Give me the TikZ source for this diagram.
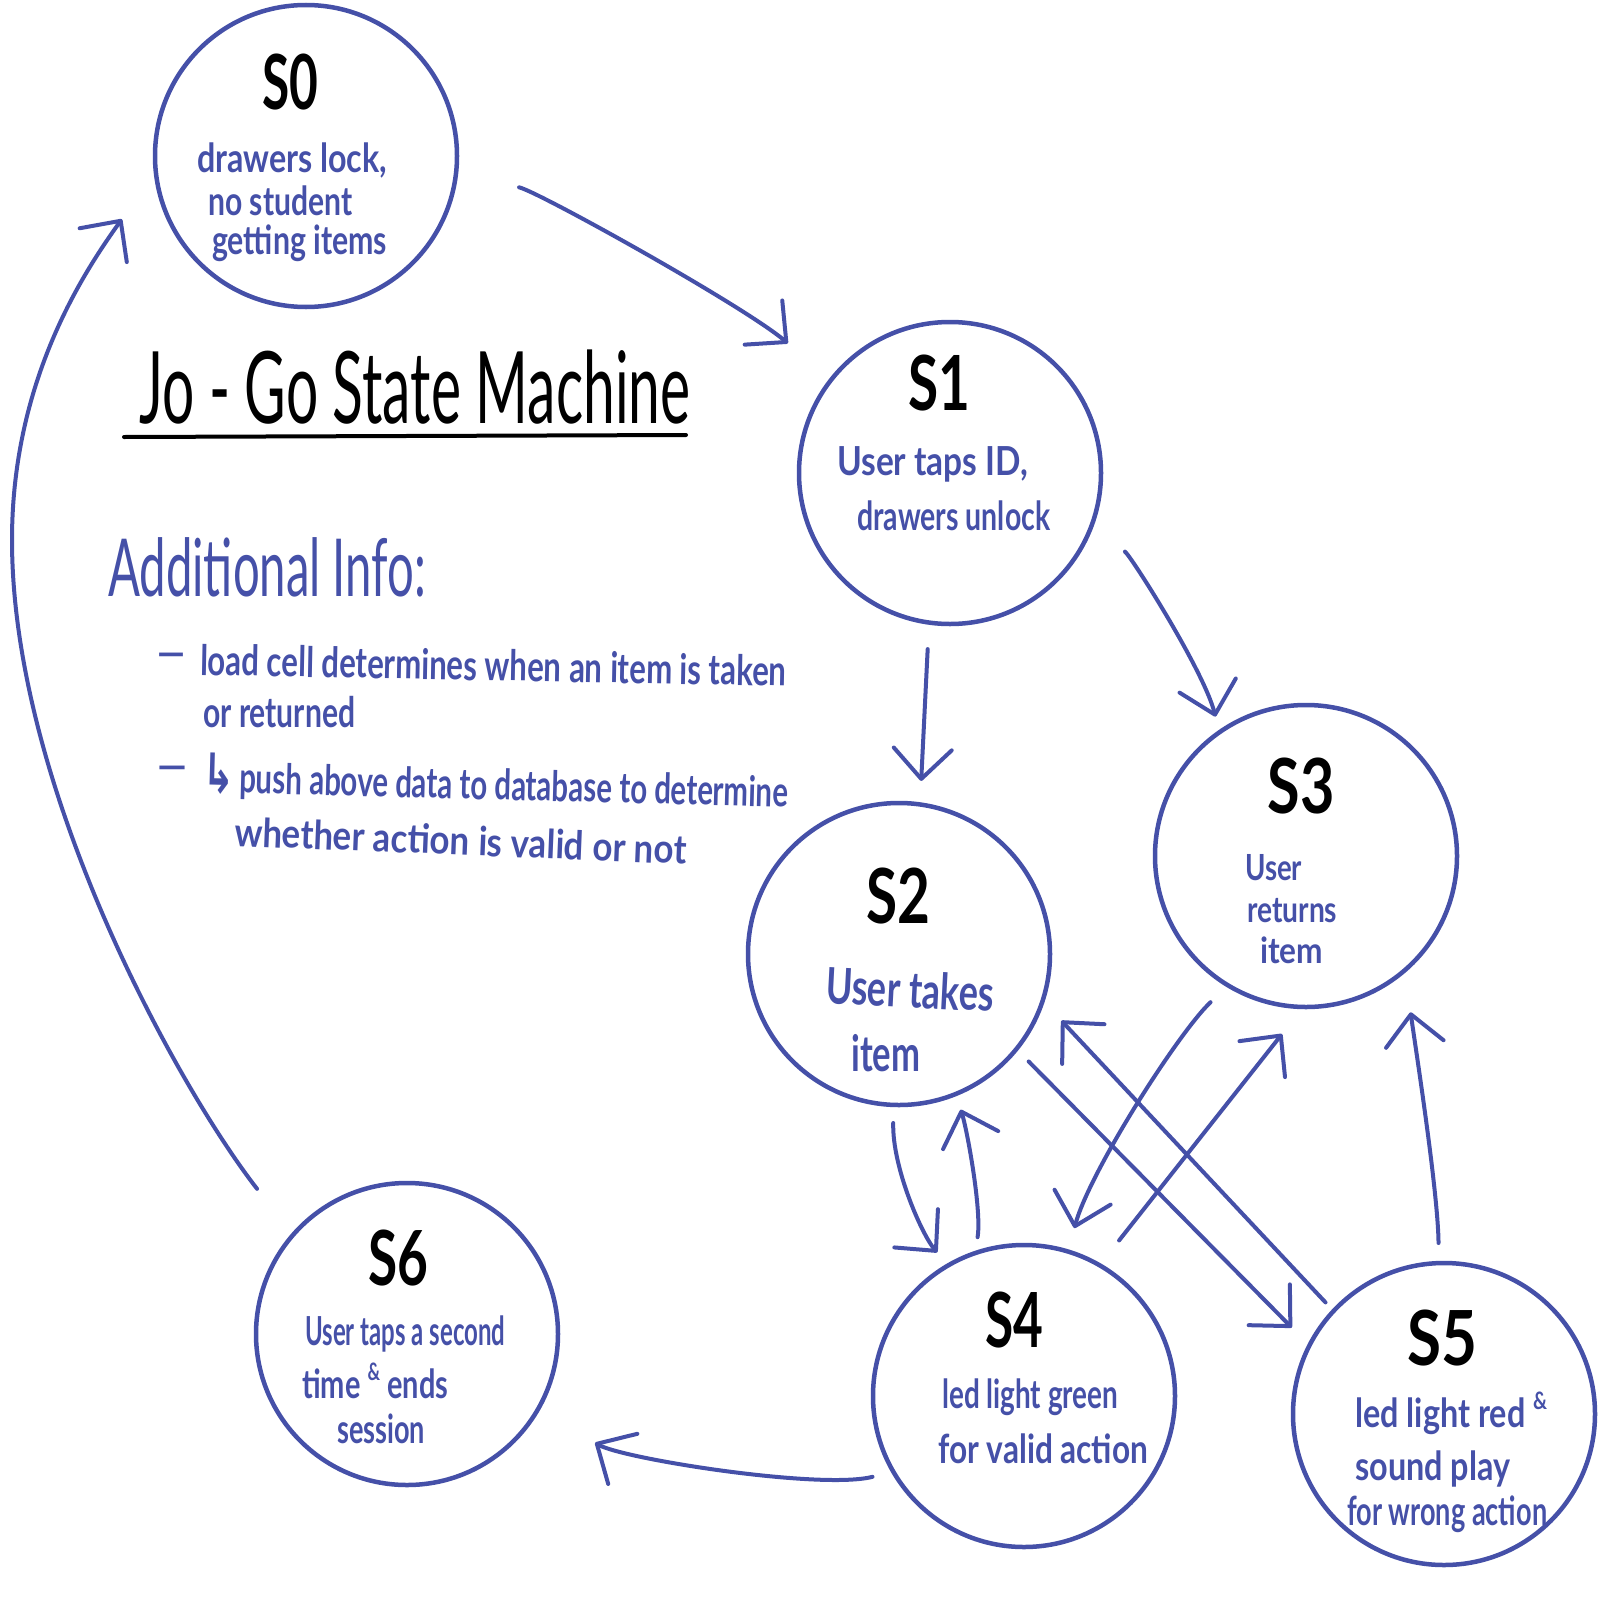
\documentclass[tikz,border=0pt]{standalone}
\usepackage{fontspec}
\setmainfont{Lato}
\newfontfamily\symfont{DejaVu Sans}
\usetikzlibrary{arrows.meta}
\definecolor{hb}{RGB}{69,80,168}
\newcommand{\fitw}[2]{\resizebox{#1}{\height}{#2}}
\newcommand{\smamp}{\raisebox{0.45em}{\scalebox{0.6}{\&}}}
\begin{document}
\begin{tikzpicture}[x=1pt,y=-1pt,
  state/.style={circle, draw=hb, line width=4.5pt, minimum size=302pt, inner sep=0pt, outer sep=0pt},
  arr/.style={draw=hb, line width=4pt, line cap=round, -{Straight Barb[length=30pt,width=58pt,round]}},
  lbl/.style={inner sep=0pt, anchor=base, font=\fontsize{76}{80}\selectfont\bfseries, text=black},
  txt/.style={inner sep=0pt, anchor=base west, font=\fontsize{40}{44}\selectfont\bfseries, text=hb},
  bigtxt/.style={txt, font=\fontsize{50}{54}\selectfont\bfseries},
  smtxt/.style={txt, font=\fontsize{36}{40}\selectfont\bfseries},
  ttl/.style={inner sep=0pt, anchor=base west, font=\fontsize{100}{110}\selectfont, text=black},
  info/.style={inner sep=0pt, anchor=base west, font=\fontsize{80}{88}\selectfont, text=hb},
  bul/.style={inner sep=0pt, anchor=base west, font=\fontsize{42}{46}\selectfont\bfseries, text=hb},
]
\fill[white] (0,0) rectangle (1611,1603);
\useasboundingbox (0,0) rectangle (1611,1603);

% states
\node[state] (S0) at (306,156) {};
\node[state] (S1) at (950,473) {};
\node[state] (S2) at (899,954) {};
\node[state] (S3) at (1306,856) {};
\node[state] (S4) at (1024,1396) {};
\node[state] (S5) at (1444,1414) {};
\node[state] (S6) at (407,1334) {};

% state labels
\node[lbl] (L0) at (290,110) {\fitw{56pt}{S0}};
\node[lbl] (L1) at (939,410) {\fitw{62pt}{S1}};
\node[lbl] (L2) at (898,923) {\fitw{64pt}{S2}};
\node[lbl] (L3) at (1301,813) {\fitw{67pt}{S3}};
\node[lbl] (L4) at (1014,1347) {\fitw{58pt}{S4}};
\node[lbl] (L5) at (1442,1365) {\fitw{70pt}{S5}};
\node[lbl] (L6) at (398,1285) {\fitw{60pt}{S6}};

% state descriptions
\node[txt] (D0a) at (197,172) {\fitw{190pt}{drawers lock,}};
\node[txt] (D0b) at (208,215) {\fitw{144pt}{no student}};
\node[txt] (D0c) at (212,254) {\fitw{175pt}{getting items}};

\node[txt] (D1a) at (837,475) {\fitw{191pt}{User taps ID,}};
\node[txt] (D1b) at (857,530) {\fitw{193pt}{drawers unlock}};

\node[bigtxt, rotate=-3] (D2a) at (825,1003) {\fitw{168pt}{User takes}};
\node[bigtxt] (D2b) at (851,1071) {\fitw{69pt}{item}};

\node[smtxt] (D3a) at (1245,880) {\fitw{57pt}{User}};
\node[smtxt] (D3b) at (1247,922) {\fitw{90pt}{returns}};
\node[smtxt] (D3c) at (1260,963) {\fitw{63pt}{item}};

\node[txt] (D4a) at (942,1408) {\fitw{176pt}{led light green}};
\node[txt] (D4b) at (938,1463) {\fitw{210pt}{for valid action}};

\node[txt] (D5a) at (1355,1427) {\fitw{192pt}{led light red \smamp}};
\node[txt] (D5b) at (1355,1480) {\fitw{155pt}{sound play}};
\node[txt] (D5c) at (1347,1525) {\fitw{200pt}{for wrong action}};

\node[txt] (D6a) at (305,1345) {\fitw{200pt}{User taps a second}};
\node[txt] (D6b) at (302,1398) {\fitw{146pt}{time \smamp\ ends}};
\node[txt] (D6c) at (337,1443) {\fitw{88pt}{session}};

% title and notes
\node[ttl] (title) at (139,423) {\fitw{551pt}{Jo - Go State Machine}};
\draw[line width=4pt, line cap=round] (124,437) -- (686,435);
\node[info] (info) at (108,596) {\fitw{318pt}{Additional Info:}};
\node[bul] (b1dash) at (154,667) {\fitw{34pt}{–}};
\node[bul, rotate=-1.1] (b1a) at (200,675) {\fitw{586pt}{load cell determines when an item is taken}};
\node[bul] (b1b) at (203,727) {\fitw{152pt}{or returned}};
\node[bul] (b2dash) at (154,780) {\fitw{36pt}{–}};
\node[bul, rotate=-1.5] (b2a) at (202,792) {\fitw{586pt}{{\symfont\scalebox{1.3}{↳}}\,push above data to database to determine}};
\node[bul, rotate=-2.3, font=\fontsize{40}{44}\selectfont\bfseries] (b2b) at (234,846) {\fitw{452pt}{whether action is valid or not}};

% transitions
\draw[arr, shorten <=64.5pt, shorten >=56.7pt] (S0.-7) .. controls (537,191) and (744,306) .. (S1.142);
\draw[arr, shorten <=26.6pt, shorten >=23.6pt] (S1.-98) -- (S2.82);
\draw[arr, shorten <=41.9pt, shorten >=16.2pt] (S1.-21) .. controls (1131,556) and (1204,671) .. (S3.125);
\draw[arr, shorten <=18.1pt, shorten >=17.1pt] (S2.-92) .. controls (892,1167) and (922,1235) .. (S4.120);
\draw[arr, shorten <=16.3pt, shorten >=16.5pt] (S4.109) .. controls (982,1211) and (967,1129) .. (S2.-68);
\draw[arr, shorten <=24.4pt, shorten >=24.3pt] (S3.-121) .. controls (1178,1033) and (1089,1173) .. (S4.73);
\draw[arr, shorten <=31.6pt, shorten >=34.4pt] (S4.60) -- (S3.-91);
\draw[arr, shorten <=17.5pt, shorten >=25.2pt] (S2.-39) -- (S5.153);
\draw[arr, shorten <=11.8pt, shorten >=27.5pt] (S5.137) -- (S2.-18);
\draw[arr, shorten <=20.1pt, shorten >=42.7pt] (S5.92) .. controls (1438,1190) and (1414,1038) .. (S3.-49);
\draw[arr, shorten <=21.4pt, shorten >=66.3pt] (S4.210) .. controls (821,1490) and (623,1459) .. (S6.-30);
\draw[arr, shorten <=58.5pt, shorten >=58.3pt] (S6.139) .. controls (180,1090) and (12,790) .. (12,540)
   .. controls (12,380) and (84,272) .. (S0.186);
\end{tikzpicture}
\end{document}
